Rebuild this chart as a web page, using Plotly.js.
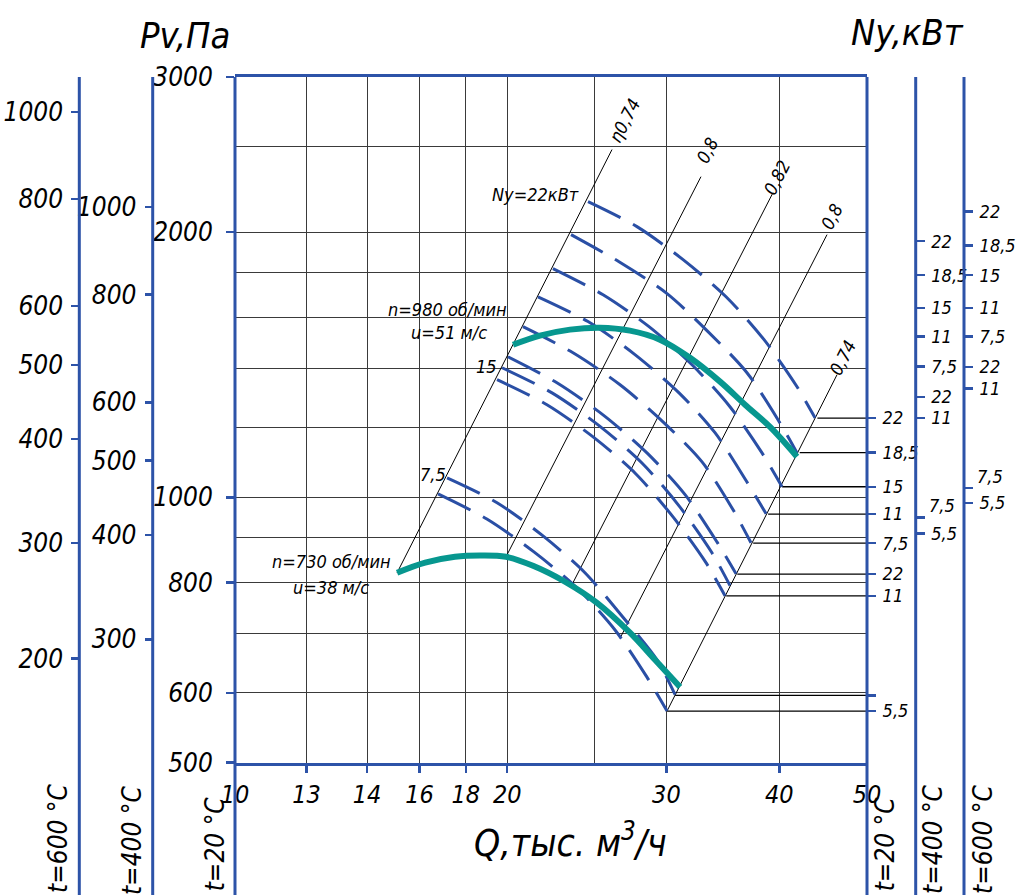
<!DOCTYPE html>
<html><head><meta charset="utf-8">
<script src="https://cdn.plot.ly/plotly-3.0.1.min.js"></script>
<style>html,body{margin:0;padding:0;background:#fff}#chart{width:1022px;height:895px}</style>
</head><body><div id="chart"></div>
<script>
// ---- axis ticks (Q, тыс. м3/ч ; Pv, Па) ----
const qTickVals = [10, 12, 14, 16, 18, 20, 30, 40, 50];
const qTickText = ["10", "13", "14", "16", "18", "20", "30", "40", "50"];
const qGridExtra = [25];
const pTickVals = [500, 600, 800, 1000, 2000, 3000];
const pGridExtra = [700, 900, 1200, 1400, 1600, 1800, 2500];

// ---- auxiliary pressure scales (t=400 °C, t=600 °C), positions given as equivalent Pv at 20 °C ----
const p400Text = ["1000", "800", "600", "500", "400", "300"];
const p400At = [2137, 1699, 1282, 1101, 906, 690];
const p600Text = ["1000", "800", "600", "500", "400", "300", "200"];
const p600At = [2737, 2182, 1648, 1414, 1165, 887, 656];

// ---- motor power scales Ny, кВт ----
const ny20Text = ["22", "18,5", "15", "11", "7,5", "22", "11", "", "5,5"];
const ny20At = [1230, 1124, 1028, 957, 887, 818, 773, 596, 572];
const ny400Text = ["22", "18,5", "15", "11", "7,5", "22", "11", "", "5,5"];
const ny400At = [1953, 1787, 1640, 1523, 1408, 1300, 1230, 949, 910];
const ny600Text = ["22", "18,5", "15", "11", "7,5", "22", "11", "", "5,5"];
const ny600At = [2112, 1931, 1787, 1640, 1523, 1406, 1329, 1024, 985];
// labels of the 7,5 ticks, written a little above their ticks
const nyRaisedText = ["7,5", "7,5"];
const nyRaisedAt = [980, 1055];

// ---- fan characteristics ----
const n980Q = [20.30, 21.74, 23.47, 25.33, 27.34, 29.51, 31.86, 34.39, 36.65, 39.06, 41.83];
const n980P = [1490, 1526, 1550, 1558, 1546, 1510, 1440, 1353, 1274, 1202, 1112];
const n730Q = [15.11, 16.23, 17.51, 18.66, 19.94, 21.36, 23.17, 25.14, 27.34, 29.14, 31.06];
const n730P = [821, 843, 856, 859, 856, 836, 802, 759, 702, 654, 609];

// ---- efficiency rays ----
const etaText = ["η0,74", "0,8", "0,82", "0,8", "0,74"];
const etaQ0 = [15.11, 19.94, 23.59, 26.66, 30.05];
const etaP0 = [821, 856, 796, 692, 572];
const etaQ1 = [26.12, 32.76, 39.36, 45.16, 46.33];
const etaP1 = [2482, 2312, 2218, 1987, 1378];
const etaLabelQ = [26.95, 33.26, 39.76, 45.74, 47.04];
const etaLabelP = [2680, 2478, 2306, 2083, 1440];

// ---- power lines Ny (dashed) ----
const powerQ = [
  [24.57, 27.83, 31.30, 34.92, 38.47, 41.84, 43.80],
  [23.53, 26.59, 30.05, 33.35, 36.83, 39.86, 41.84],
  [22.47, 25.53, 28.70, 32.02, 35.27, 38.27, 40.27],
  [21.63, 24.57, 27.69, 30.98, 33.95, 36.83, 38.67],
  [20.82, 23.65, 26.66, 29.74, 32.85, 35.55, 37.21],
  [20.04, 22.70, 25.59, 28.55, 31.46, 34.12, 35.82],
  [19.74, 22.42, 25.27, 28.19, 30.98, 33.69, 35.27],
  [19.49, 22.13, 24.89, 27.76, 30.51, 33.18, 34.83],
  [17.16, 19.49, 21.91, 24.38, 26.86, 29.29, 30.67],
  [16.77, 18.99, 21.41, 23.89, 26.32, 28.55, 30.05]
];
const powerP = [
  [2166, 2029, 1861, 1689, 1510, 1335, 1231],
  [1987, 1851, 1703, 1542, 1385, 1225, 1123],
  [1818, 1698, 1562, 1414, 1267, 1123, 1028],
  [1689, 1583, 1452, 1314, 1184, 1041, 958],
  [1562, 1459, 1342, 1218, 1097, 968, 888],
  [1444, 1349, 1238, 1123, 1007, 890, 819],
  [1403, 1314, 1206, 1094, 978, 865, 794],
  [1360, 1274, 1171, 1063, 950, 843, 773],
  [1052, 986, 904, 821, 731, 654, 597],
  [1009, 945, 867, 789, 707, 625, 572]
];

// ---- in-plot notes ----
const noteText = ["Ny=22кВт", "n=980 об/мин", "u=51 м/с", "15", "7,5", "n=730 об/мин", "u=38 м/с"];
const noteQ = [21.47, 17.16, 17.25, 18.95, 16.56, 12.77, 12.77];
const noteP = [2206, 1633, 1538, 1407, 1061, 845, 791];

const BLUE = '#2d53a8', DASHBLUE = '#2a4fa5', TEAL = '#07978f', GRID = '#3a3a3a';
const FONT = '"Liberation Sans Narrow", "DejaVu Sans Condensed", "Arial Narrow", sans-serif';
const f = (size) => ({family: FONT, size: size, color: '#000', style: 'italic'});

const traces = [];
for (let i = 0; i < etaQ0.length; i++) {
  traces.push({type: 'scatter', mode: 'lines', x: [etaQ0[i], etaQ1[i]], y: [etaP0[i], etaP1[i]],
    line: {color: '#000', width: 1}, hoverinfo: 'skip', showlegend: false});
}
const rQ = etaQ0[4], rP = etaP0[4];
ny20At.forEach(p => {
  traces.push({type: 'scatter', mode: 'lines', x: [rQ * Math.sqrt(p / rP), 50], y: [p, p],
    line: {color: '#000', width: 1.3}, hoverinfo: 'skip', showlegend: false});
});
powerQ.forEach((q, i) => {
  traces.push({type: 'scatter', mode: 'lines', x: q, y: powerP[i],
    line: {color: DASHBLUE, width: 3, dash: '36px,14px', shape: 'spline', smoothing: 0.8}, hoverinfo: 'skip', showlegend: false});
});
[[n980Q, n980P], [n730Q, n730P]].forEach(c => {
  traces.push({type: 'scatter', mode: 'lines', x: c[0], y: c[1],
    line: {color: TEAL, width: 6, shape: 'spline', smoothing: 1}, hoverinfo: 'skip', showlegend: false});
});
['y2', 'y3', 'y4', 'y5', 'y6'].forEach(a => {
  traces.push({type: 'scatter', mode: 'lines', x: [], y: [], yaxis: a, hoverinfo: 'skip', showlegend: false});
});

const pRange = [Math.log10(500), Math.log10(3000)];
const auxPos = [0.06039, 0.13513, 0.86253, 0.91212, 0.96130];
const auxAxis = (pos, side, vals, text, size) => ({
  overlaying: 'y', anchor: 'free', position: pos, side: side, type: 'log', range: pRange,
  tickmode: 'array', tickvals: vals, ticktext: text, showgrid: false, zeroline: false, showline: false,
  ticks: 'outside', ticklen: 8, tickwidth: 2.5, tickcolor: BLUE, tickfont: f(size), ticklabelstandoff: 3
});

const annotations = [];
const ann = (o) => Object.assign({showarrow: false, xanchor: 'center', yanchor: 'middle'}, o);
etaText.forEach((t, i) => annotations.push(ann({xref: 'x', yref: 'y', x: Math.log10(etaLabelQ[i]), y: Math.log10(etaLabelP[i]),
  text: t, textangle: -63, font: f(18)})));
noteText.forEach((t, i) => annotations.push(ann({xref: 'x', yref: 'y', x: Math.log10(noteQ[i]), y: Math.log10(noteP[i]),
  text: t, font: f(18)})));
nyRaisedText.forEach((t, i) => annotations.push(ann({xref: 'paper', yref: 'y', x: auxPos[3 + i], xanchor: 'left', xshift: 11,
  y: Math.log10(nyRaisedAt[i]), text: t, font: f(18)})));
annotations.push(ann({xref: 'paper', yref: 'paper', x: 0.168, y: 1.0513, text: 'Pv,Па', font: f(36)}));
annotations.push(ann({xref: 'paper', yref: 'paper', x: 0.904, y: 1.0538, text: 'Ny,кВт', font: f(36)}));
annotations.push(ann({xref: 'paper', yref: 'paper', x: 0.561, y: 0.0672, text: 'Q,тыс. м<sup>3</sup>/ч', font: f(37)}));
const tLabels = [["t=600 °C", 0.0387, 0.0697], ["t=400 °C", 0.1141, 0.0672], ["t=20 °C", 0.1986, 0.0620],
                 ["t=20 °C", 0.8809, 0.0620], ["t=400 °C", 0.9297, 0.0685], ["t=600 °C", 0.9807, 0.0685]];
tLabels.forEach(l => annotations.push(ann({xref: 'paper', yref: 'paper', x: l[1], y: l[2], text: l[0],
  textangle: -90, font: f(26)})));

const axisLineX = [0.06039, 0.13513, 0.21894, 0.86253, 0.91212, 0.96130];
const shapes = axisLineX.map(x => ({type: 'line', xref: 'paper', yref: 'paper', x0: x, x1: x, y0: 0, y1: 1,
  line: {color: BLUE, width: 3}}));

const layout = {
  width: 1022, height: 895,
  margin: {l: 20, r: 20, t: 77, b: 0},
  paper_bgcolor: '#fff', plot_bgcolor: 'rgba(0,0,0,0)',
  showlegend: false,
  font: f(18),
  xaxis: {type: 'log', range: [1, Math.log10(50)], domain: [0.21894, 0.86253], anchor: 'y',
    tickmode: 'array', tickvals: qTickVals, ticktext: qTickText,
    showgrid: true, gridcolor: GRID, gridwidth: 1.2, zeroline: false,
    showline: true, linecolor: BLUE, linewidth: 3, mirror: true,
    ticks: 'outside', ticklen: 7, tickwidth: 2.5, tickcolor: BLUE, tickfont: f(25), ticklabelstandoff: 0,
    minor: {tickvals: qGridExtra, showgrid: true, gridcolor: GRID, gridwidth: 1.2, ticks: ''}},
  yaxis: {type: 'log', range: pRange, domain: [0.16198, 1], anchor: 'x',
    tickmode: 'array', tickvals: pTickVals, ticktext: pTickVals.map(String),
    showgrid: true, gridcolor: GRID, gridwidth: 1.2, zeroline: false, showline: false,
    ticks: 'outside', ticklen: 8, tickwidth: 2.5, tickcolor: BLUE, tickfont: f(26), ticklabelstandoff: 8,
    minor: {tickvals: pGridExtra, showgrid: true, gridcolor: GRID, gridwidth: 1.2, ticks: ''}},
  yaxis2: auxAxis(auxPos[0], 'left', p600At, p600Text, 26),
  yaxis3: auxAxis(auxPos[1], 'left', p400At, p400Text, 26),
  yaxis4: auxAxis(auxPos[2], 'right', ny20At, ny20Text, 18),
  yaxis5: auxAxis(auxPos[3], 'right', ny400At, ny400Text, 18),
  yaxis6: auxAxis(auxPos[4], 'right', ny600At, ny600Text, 18),
  annotations: annotations,
  shapes: shapes
};

Plotly.newPlot('chart', traces, layout, {displayModeBar: false, staticPlot: true});
</script>
</body></html>
